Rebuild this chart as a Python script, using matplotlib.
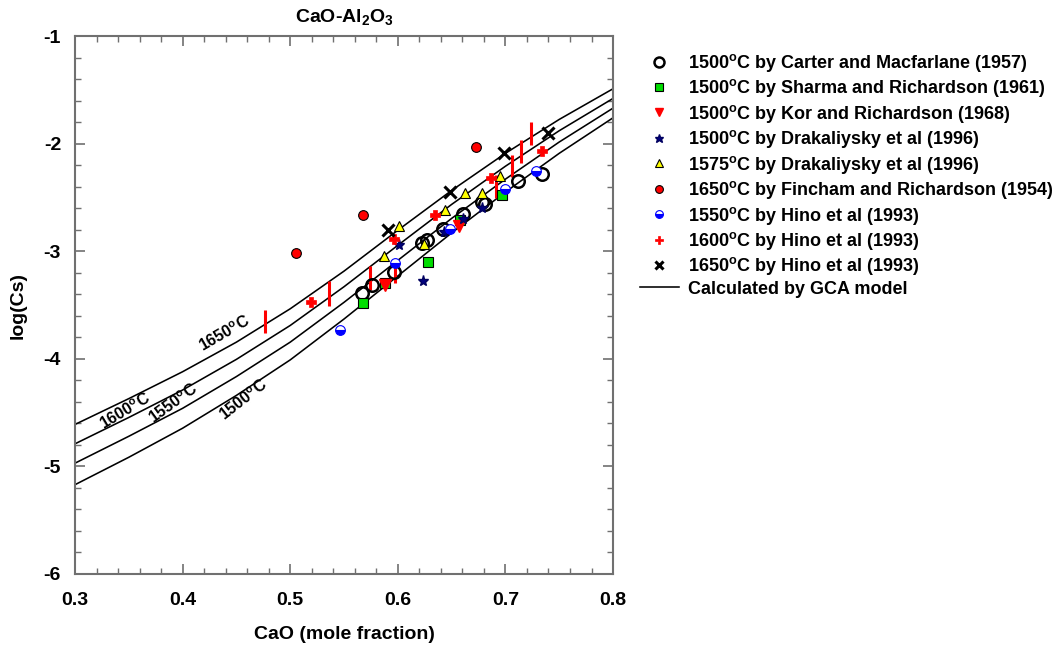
import matplotlib
matplotlib.use("Agg")
import matplotlib.pyplot as plt
from matplotlib.ticker import MultipleLocator

plt.rcParams["font.family"] = ["Liberation Sans", "DejaVu Sans"]
plt.rcParams["font.weight"] = "bold"
plt.rcParams["axes.unicode_minus"] = False
plt.rcParams["mathtext.fontset"] = "custom"
plt.rcParams["mathtext.rm"] = "Liberation Sans:bold"
plt.rcParams["mathtext.it"] = "Liberation Sans:bold"
plt.rcParams["mathtext.bf"] = "Liberation Sans:bold"

# GCA model curves
x_model = [0.30, 0.35, 0.40, 0.45, 0.50, 0.55, 0.60, 0.65, 0.70, 0.75, 0.80]
cs_1650 = [-4.61, -4.37, -4.12, -3.845, -3.535, -3.185, -2.805, -2.435, -2.09, -1.775, -1.49]
cs_1600 = [-4.79, -4.545, -4.29, -4.005, -3.69, -3.33, -2.945, -2.565, -2.21, -1.88, -1.58]
cs_1550 = [-4.97, -4.72, -4.46, -4.165, -3.845, -3.475, -3.085, -2.695, -2.33, -1.985, -1.67]
cs_1500 = [-5.17, -4.915, -4.645, -4.34, -4.01, -3.63, -3.23, -2.83, -2.45, -2.09, -1.76]

# measurements
carter_x = [0.567, 0.576, 0.596, 0.622, 0.627, 0.642, 0.661, 0.678, 0.681, 0.712, 0.734]
carter_y = [-3.39, -3.31, -3.19, -2.92, -2.90, -2.79, -2.65, -2.54, -2.56, -2.35, -2.28]
sharma_x = [0.568, 0.588, 0.628, 0.658, 0.697]
sharma_y = [-3.48, -3.30, -3.10, -2.71, -2.48]
kor_x = [0.588, 0.657]
kor_y = [-3.31, -2.77]
drak1500_x = [0.601, 0.623, 0.643, 0.661, 0.678]
drak1500_y = [-2.94, -3.28, -2.82, -2.70, -2.60]
drak1575_x = [0.587, 0.601, 0.624, 0.644, 0.6625, 0.678, 0.695]
drak1575_y = [-3.04, -2.77, -2.93, -2.62, -2.46, -2.46, -2.30]
fincham_x = [0.505, 0.568, 0.673]
fincham_y = [-3.02, -2.66, -2.03]
hino1550_x = [0.546, 0.597, 0.6485, 0.700, 0.728]
hino1550_y = [-3.73, -3.11, -2.79, -2.42, -2.25]
hino1600_x = [0.519, 0.596, 0.635, 0.687, 0.734]
hino1600_y = [-3.47, -2.89, -2.66, -2.32, -2.07]
hino1650_x = [0.591, 0.6485, 0.699, 0.740]
hino1650_y = [-2.80, -2.45, -2.09, -1.90]

# red vertical bars (no legend entry)
bar_x = [0.477, 0.536, 0.574, 0.597, 0.691, 0.706, 0.714, 0.7235]
bar_lo = [-3.76, -3.51, -3.36, -3.30, -2.51, -2.31, -2.18, -2.01]
bar_hi = [-3.55, -3.28, -3.14, -3.13, -2.29, -2.11, -1.97, -1.80]

fig = plt.figure(figsize=(10.61, 6.48), dpi=100)
ax = fig.add_axes([0.0707, 0.1142, 0.5071, 0.8302])

for ys in [cs_1650, cs_1600, cs_1550, cs_1500]:
    ax.plot(x_model, ys, color="black", lw=1.15)

ax.vlines(bar_x, bar_lo, bar_hi, color="red", lw=2.2)

ax.plot(carter_x, carter_y, "o", ms=9, mfc="none", mec="black", mew=1.8, ls="none",
        label="1500$^{o}$C by Carter and Macfarlane (1957)")
ax.plot(sharma_x, sharma_y, "s", ms=7, mfc="#00dd00", mec="black", mew=0.8, ls="none",
        label="1500$^{o}$C by Sharma and Richardson (1961)")
ax.plot(kor_x, kor_y, "v", ms=8, mfc="red", mec="red", ls="none",
        label="1500$^{o}$C by Kor and Richardson (1968)")
ax.plot(drak1500_x, drak1500_y, "*", ms=8, mfc="#000080", mec="#000060", ls="none",
        label="1500$^{o}$C by Drakaliysky et al (1996)")
ax.plot(drak1575_x, drak1575_y, "^", ms=7, mfc="#ffff00", mec="black", mew=0.8, ls="none",
        label="1575$^{o}$C by Drakaliysky et al (1996)")
ax.plot(fincham_x, fincham_y, "o", ms=7, mfc="red", mec="black", mew=0.8, ls="none",
        label="1650$^{o}$C by Fincham and Richardson (1954)")
ax.plot(hino1550_x, hino1550_y, "o", ms=7, fillstyle="bottom", mfc="blue",
        markerfacecoloralt="white", mec="blue", mew=0.8, ls="none",
        label="1550$^{o}$C by Hino et al (1993)")
ax.plot(hino1600_x, hino1600_y, "P", ms=7, mfc="red", mec="red", mew=0.5, ls="none",
        label="1600$^{o}$C by Hino et al (1993)")
ax.plot(hino1650_x, hino1650_y, "x", ms=8, mec="black", mew=2.2, ls="none",
        label="1650$^{o}$C by Hino et al (1993)")
ax.plot([], [], color="black", lw=1.15, label="Calculated by GCA model")

lab_kw = dict(ha="center", va="center", fontsize=11.5, fontweight="bold")
ax.text(0.4394, -3.763, "1650$^{o}$C", rotation=30, **lab_kw)
ax.text(0.347, -4.49, "1600$^{o}$C", rotation=31, **lab_kw)
ax.text(0.391, -4.42, "1550$^{o}$C", rotation=36, **lab_kw)
ax.text(0.457, -4.383, "1500$^{o}$C", rotation=38, **lab_kw)

ax.set_xlim(0.3, 0.8)
ax.set_ylim(-6, -1)
ax.xaxis.set_major_locator(MultipleLocator(0.1))
ax.xaxis.set_minor_locator(MultipleLocator(0.02))
ax.yaxis.set_major_locator(MultipleLocator(1))
ax.yaxis.set_minor_locator(MultipleLocator(0.2))
ax.tick_params(which="both", direction="in", top=True, right=True, color="#707070",
               labelsize=14)
ax.tick_params(axis="x", which="major", pad=13)
ax.tick_params(axis="y", which="major", pad=10)
ax.tick_params(which="major", length=7, width=1.2)
ax.tick_params(which="minor", length=4, width=1.0)
for s in ax.spines.values():
    s.set_color("#707070")
    s.set_linewidth(1.5)

ax.set_xlabel("CaO (mole fraction)", fontsize=14, fontweight="bold", labelpad=12)
ax.set_ylabel("log(Cs)", fontsize=14, fontweight="bold", labelpad=12)
ax.set_title("CaO-Al$_2$O$_3$", fontsize=14, fontweight="bold", pad=10)

ax.legend(loc="upper left", bbox_to_anchor=(0.596, 0.931), bbox_transform=fig.transFigure,
          frameon=False, fontsize=13, handlelength=2.2, handletextpad=0.5,
          labelspacing=0.19, borderaxespad=0, markerscale=0.8)

fig.savefig("out.png", dpi=100)
